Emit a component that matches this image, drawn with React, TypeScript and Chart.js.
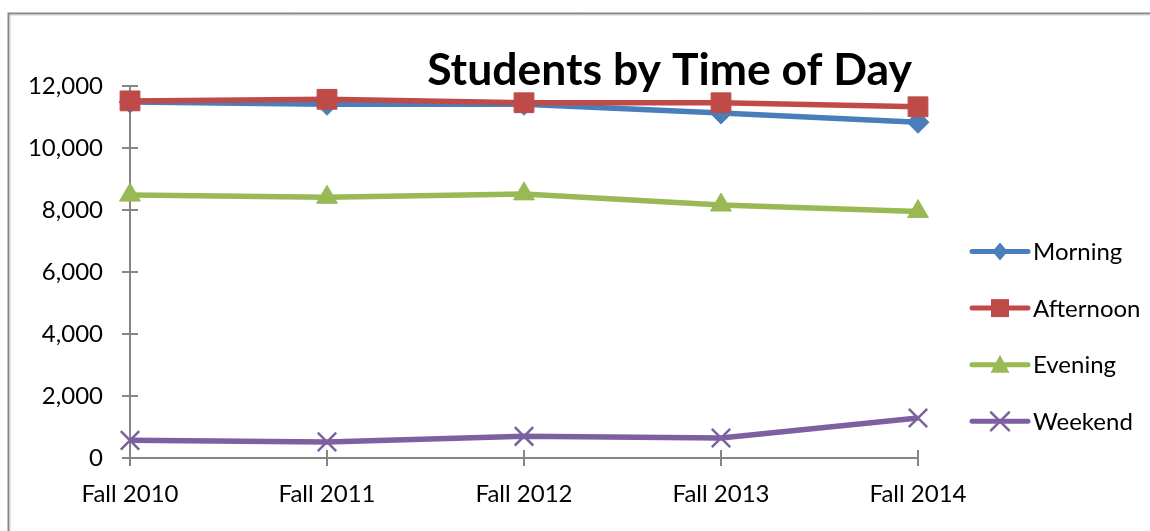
import React, { useEffect, useRef } from "react";
import { Chart, registerables } from "chart.js";

Chart.register(...registerables);

const categories = ["Fall 2010", "Fall 2011", "Fall 2012", "Fall 2013", "Fall 2014"];
const morning = [11480, 11410, 11410, 11130, 10830];
const afternoon = [11520, 11570, 11460, 11460, 11330];
const evening = [8480, 8410, 8520, 8160, 7950];
const weekend = [570, 520, 700, 645, 1290];
const yTicks = [0, 2000, 4000, 6000, 8000, 10000, 12000];
const seriesNames = ["Morning", "Afternoon", "Evening", "Weekend"];
const titleText = "Students by Time of Day";

const COLORS = ["#4A7EBB", "#BE4B48", "#98B954", "#7D60A0"];
const AXIS = "#868686";
const FONT = "Lato";

function drawMarker(ctx: CanvasRenderingContext2D, kind: number, x: number, y: number, color: string) {
  ctx.save();
  ctx.fillStyle = color;
  ctx.strokeStyle = color;
  ctx.beginPath();
  if (kind === 0) {
    const r = 9;
    ctx.moveTo(x, y - r);
    ctx.lineTo(x + r * 0.85, y);
    ctx.lineTo(x, y + r);
    ctx.lineTo(x - r * 0.85, y);
    ctx.closePath();
    ctx.fill();
  } else if (kind === 1) {
    const s = 9;
    ctx.rect(x - s, y - s, 2 * s, 2 * s);
    ctx.fill();
  } else if (kind === 2) {
    ctx.moveTo(x, y - 10);
    ctx.lineTo(x + 9.5, y + 8);
    ctx.lineTo(x - 9.5, y + 8);
    ctx.closePath();
    ctx.fill();
  } else {
    const r = 9;
    ctx.lineWidth = 2.5;
    ctx.moveTo(x - r, y - r);
    ctx.lineTo(x + r, y + r);
    ctx.moveTo(x + r, y - r);
    ctx.lineTo(x - r, y + r);
    ctx.stroke();
  }
  ctx.restore();
}

const decorPlugin = {
  id: "decor",
  beforeDraw(chart: any) {
    const ctx = chart.ctx as CanvasRenderingContext2D;
    ctx.save();
    ctx.fillStyle = "#ffffff";
    ctx.fillRect(0, 0, chart.width, chart.height);
    ctx.strokeStyle = AXIS;
    ctx.lineWidth = 2;
    ctx.beginPath();
    ctx.moveTo(8.5, chart.height + 2);
    ctx.lineTo(8.5, 13.5);
    ctx.lineTo(chart.width + 2, 13.5);
    ctx.stroke();
    ctx.strokeStyle = "#cfcfcf";
    ctx.lineWidth = 1;
    ctx.beginPath();
    ctx.moveTo(10, chart.height + 2);
    ctx.lineTo(10, 15);
    ctx.lineTo(chart.width + 2, 15);
    ctx.stroke();
    ctx.restore();
  },
  beforeDatasetsDraw(chart: any) {
    const ctx = chart.ctx as CanvasRenderingContext2D;
    const xs = chart.scales.x;
    const ys = chart.scales.y;
    const left = chart.chartArea.left;
    const bottom = ys.getPixelForValue(0);
    const top = ys.getPixelForValue(yTicks[yTicks.length - 1]);
    ctx.save();
    ctx.strokeStyle = AXIS;
    ctx.lineWidth = 2;
    ctx.beginPath();
    ctx.moveTo(left, top);
    ctx.lineTo(left, bottom);
    for (const t of yTicks) {
      const py = Math.round(ys.getPixelForValue(t));
      ctx.moveTo(left - 8, py);
      ctx.lineTo(left + 8, py);
    }
    const xl = xs.getPixelForValue(0);
    const xr = xs.getPixelForValue(categories.length - 1);
    ctx.moveTo(xl, bottom);
    ctx.lineTo(xr, bottom);
    for (let i = 0; i < categories.length; i++) {
      const px = Math.round(xs.getPixelForValue(i));
      ctx.moveTo(px, bottom - 8);
      ctx.lineTo(px, bottom + 8);
    }
    ctx.stroke();
    ctx.restore();
  },
  afterDraw(chart: any) {
    const ctx = chart.ctx as CanvasRenderingContext2D;
    const ca = chart.chartArea;
    ctx.save();
    ctx.fillStyle = "#000000";
    ctx.font = `bold 44.5px ${FONT}`;
    ctx.textAlign = "right";
    ctx.textBaseline = "alphabetic";
    ctx.fillText(titleText, ca.right - 6, 85);
    ctx.font = `24px ${FONT}`;
    ctx.textAlign = "left";
    const lx0 = ca.right + 54;
    const lx1 = ca.right + 110;
    for (let i = 0; i < seriesNames.length; i++) {
      const cy = 251.5 + i * 56.6;
      ctx.strokeStyle = COLORS[i];
      ctx.lineWidth = 5;
      ctx.lineCap = "round";
      ctx.beginPath();
      ctx.moveTo(lx0, cy);
      ctx.lineTo(lx1, cy);
      ctx.stroke();
      drawMarker(ctx, i, (lx0 + lx1) / 2, cy, COLORS[i]);
      ctx.fillStyle = "#000000";
      ctx.fillText(seriesNames[i], lx1 + 5, cy + 8.5);
    }
    ctx.restore();
  },
};

export default function App() {
  const ref = useRef<HTMLCanvasElement | null>(null);
  useEffect(() => {
    if (!ref.current) return;
    const seriesData = [morning, afternoon, evening, weekend];
    const styles = ["rectRot", "rect", "triangle", "crossRot"];
    const radii = [11, 14, 12, 13];
    const orders = [3, 2, 1, 0];
    const chart = new Chart(ref.current, {
      type: "line",
      data: {
        labels: categories,
        datasets: seriesData.map((d, i) => ({
          label: seriesNames[i],
          data: d,
          borderColor: COLORS[i],
          backgroundColor: COLORS[i],
          borderWidth: 5.5,
          pointStyle: styles[i],
          pointRadius: radii[i],
          pointHoverRadius: radii[i],
          pointBackgroundColor: COLORS[i],
          pointBorderColor: COLORS[i],
          pointBorderWidth: i === 3 ? 2.5 : 1,
          tension: 0,
          clip: false,
          order: orders[i],
        })) as any,
      },
      options: {
        responsive: false,
        animation: false,
        events: [],
        layout: { padding: { left: 0, right: 232, top: 86, bottom: 0 } },
        plugins: { legend: { display: false }, tooltip: { enabled: false }, title: { display: false } },
        scales: {
          x: {
            type: "category",
            offset: false,
            grid: { display: false, drawTicks: false, tickLength: 0 },
            border: { display: false },
            ticks: {
              color: "#000000",
              font: { family: FONT, size: 24 },
              padding: 22,
              maxRotation: 0,
              autoSkip: false,
            },
            afterFit: (s: any) => {
              s.height = 73;
            },
          },
          y: {
            min: 0,
            max: 12000,
            grid: { display: false, drawTicks: false, tickLength: 0 },
            border: { display: false },
            afterBuildTicks: (s: any) => {
              s.ticks = yTicks.map((v) => ({ value: v }));
            },
            ticks: {
              color: "#000000",
              font: { family: FONT, size: 24 },
              padding: 27,
              callback: (v: any) => Number(v).toLocaleString("en-US"),
            },
            afterFit: (s: any) => {
              s.width = 130;
            },
          },
        },
      },
      plugins: [decorPlugin],
    });
    return () => chart.destroy();
  }, []);
  return (
    <div style={{ position: "absolute", left: 0, top: 0, width: 1150, height: 531 }}>
      <canvas ref={ref} width={1150} height={531} style={{ display: "block" }} />
    </div>
  );
}
